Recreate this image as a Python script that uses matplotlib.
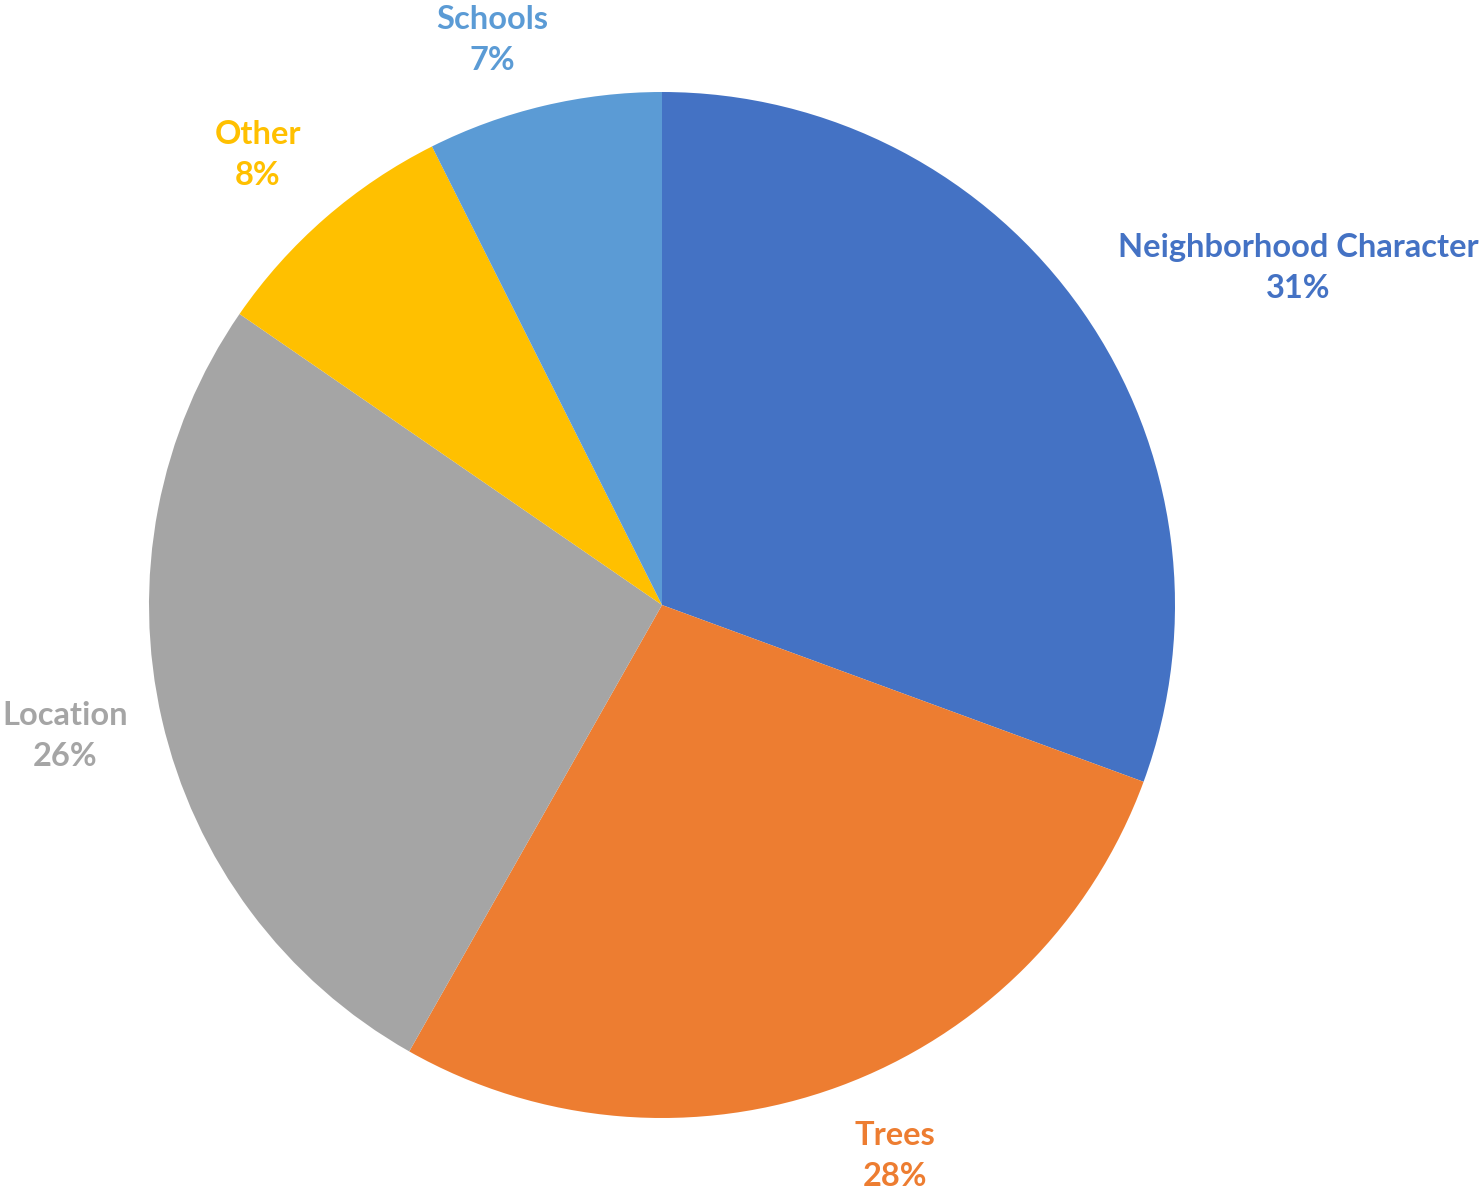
import matplotlib
matplotlib.use("Agg")
import matplotlib.pyplot as plt

categories = ["Neighborhood Character", "Trees", "Location", "Other", "Schools"]
values = [30.6, 27.6, 26.4, 8.0, 7.4]
pct_labels = ["31%", "28%", "26%", "8%", "7%"]
colors = ["#4472C4", "#ED7D31", "#A5A5A5", "#FFC000", "#5B9BD5"]

# label centres in data units (pie radius = 1)
label_pos = [(1.240, 0.657), (0.454, -1.074), (-1.164, -0.255),
             (-0.788, 0.877), (-0.331, 1.101)]

W, H = 1479, 1189
cx, cy, R = 662, 605, 513

fig = plt.figure(figsize=(W / 100, H / 100), dpi=100)
ax = fig.add_axes([0, 0, 1, 1])

ax.pie(values, colors=colors, startangle=90, counterclock=False,
       radius=1, wedgeprops=dict(linewidth=0))

ax.set_aspect("auto")
ax.set_xlim(-cx / R, (W - cx) / R)
ax.set_ylim(-(H - cy) / R, cy / R)
ax.axis("off")

for cat, pct, col, (x, y) in zip(categories, pct_labels, colors, label_pos):
    ax.text(x, y, f"{cat}\n{pct}", color=col, ha="center", va="center",
            fontsize=23.5, fontweight="bold", family="Lato", linespacing=1.48)

fig.savefig("out.png", dpi=100)
